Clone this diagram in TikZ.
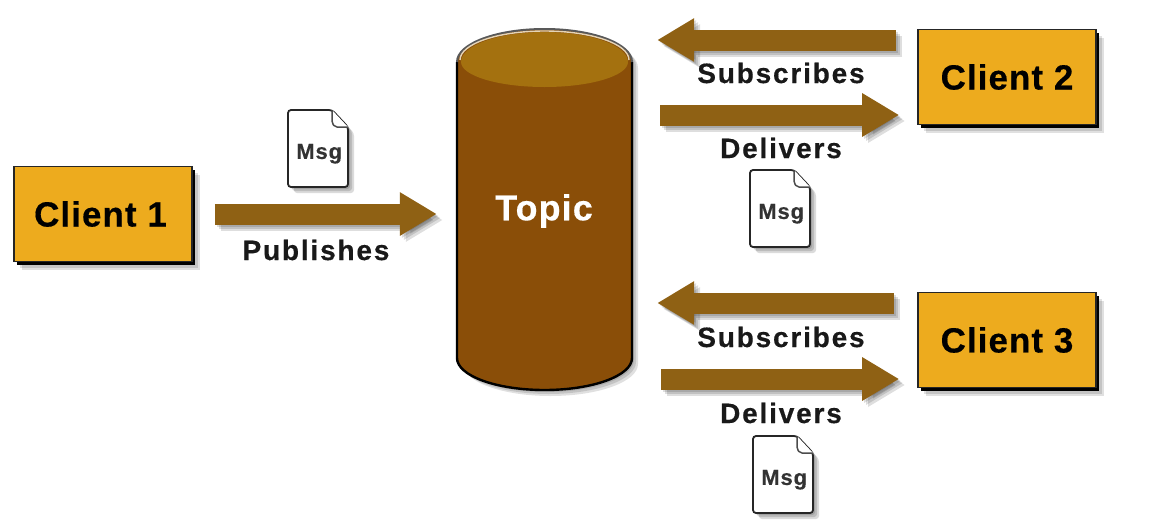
\documentclass[tikz,border=0pt]{standalone}
\usepackage{fontspec}
\setmainfont{Liberation Sans}
\usetikzlibrary{arrows.meta,shadows,calc}
\definecolor{clientfill}{HTML}{EDAB1E}
\definecolor{arrowbrown}{HTML}{8F6114}
\definecolor{topicside}{HTML}{8A4E08}
\definecolor{topictop}{HTML}{A4710F}
\newcommand{\labelfont}{\fontsize{28}{30}\selectfont\bfseries\addfontfeatures{LetterSpace=6.5,FakeBold=0.4}}
\newcommand{\clientfont}{\fontsize{35}{38}\selectfont\bfseries\addfontfeatures{LetterSpace=3,FakeBold=0.4}}
\tikzset{
  x=1pt,y=-1pt,
  softshadow/.style={drop shadow={shadow xshift=#1,shadow yshift=-#1,opacity=.12,fill=black,draw=none}},
  clientbox/.style={rectangle,fill=clientfill,draw=black!85,line width=1.6pt,
    minimum width=178pt,minimum height=95pt,inner sep=0pt,text=black,font=\clientfont,
    softshadow=8pt,softshadow=6pt,
    drop shadow={shadow xshift=3pt,shadow yshift=-3pt,opacity=1,fill=black,draw=none}},
  arrowbody/.style={draw=arrowbrown,line width=21pt,-{Triangle[length=37pt,width=41pt,color=arrowbrown]}},
  arrowshade/.style={draw=black,opacity=.13,line width=21pt,-{Triangle[length=37pt,width=41pt,color=black]}},
  flowlabel/.style={font=\labelfont,text=black!90,inner sep=0pt},
  msgtext/.style={font=\fontsize{22}{24}\selectfont\bfseries\addfontfeatures{LetterSpace=4,FakeBold=0.3},text=black!80,inner sep=0pt},
  docanchor/.style={rectangle,minimum width=60pt,minimum height=77pt,inner sep=0pt},
}
% block arrow: #1 start, #2 end
\newcommand{\blockarrow}[2]{%
  \foreach \d in {2,4,6}{\draw[arrowshade,transform canvas={shift={(\d pt,-\d pt)}}] #1 -- #2;}
  \draw[arrowbody] #1 -- #2;}
% document icon: #1 name, #2 top-left x, #3 top-left y
\newcommand{\msgdoc}[3]{%
  \node[docanchor,anchor=north west] (#1) at (#2,#3) {};
  \begin{scope}[shift={(#2,#3)}]
    \foreach \d in {2,4,6}{
      \fill[black,opacity=.14,rounded corners=3pt,shift={(\d,\d)}] (0,0) -- (44,0) -- (60,17) -- (60,77) -- (0,77) -- cycle;}
    \draw[fill=white,draw=black!85,line width=1.8pt,rounded corners=3pt]
      (0,0) -- (44,0) -- (60,17) -- (60,77) -- (0,77) -- cycle;
    \draw[draw=black!70,line width=1.5pt,fill=white,rounded corners=2pt] (44,0) -- (44,13) -- (47,17) -- (60,17);
  \end{scope}
  \node[msgtext] at ($(#1.center)+(1,5)$) {Msg};}
\begin{document}
\begin{tikzpicture}
\useasboundingbox (0,0) rectangle (1149,528);
\fill[white] (0,0) rectangle (1149,528);

% clients
\node[clientbox] (c1) at (103,214) {\hspace*{-5pt}Client 1};
\node[clientbox] (c2) at (1007,77) {Client 2};
\node[clientbox] (c3) at (1007,340) {Client 3};

% topic cylinder
\foreach \d in {2,4,6}{
  \fill[black,opacity=.12,shift={(\d,\d)}] (457,62) arc[start angle=180,end angle=360,x radius=87.5,y radius=33]
    -- (632,358) arc[start angle=0,end angle=180,x radius=87.5,y radius=32] -- cycle;}
\fill[topicside] (457,62) arc[start angle=180,end angle=360,x radius=87.5,y radius=33]
    -- (632,358) arc[start angle=0,end angle=180,x radius=87.5,y radius=32] -- cycle;
\draw[black,line width=2.4pt] (632,62) -- (632,358) arc[start angle=0,end angle=180,x radius=87.5,y radius=32] -- (457,62);
\draw[black!65,line width=2pt] (457,62) arc[start angle=180,end angle=360,x radius=87.5,y radius=33];
\fill[topictop] (461,62) arc[start angle=180,end angle=360,x radius=83.5,y radius=30]
   arc[start angle=0,end angle=180,x radius=83.5,y radius=25] -- cycle;
\draw[white!70!topictop,line width=1.4pt] (460,60) arc[start angle=180,end angle=360,x radius=84.5,y radius=29];
\node[rectangle,minimum width=175pt,minimum height=362pt,inner sep=0pt] (topic) at (544.5,209) {};
\node[font=\fontsize{36}{38}\selectfont\bfseries\addfontfeatures{LetterSpace=3,FakeBold=0.4},text=white,inner sep=0pt] (topiclabel) at (544,211) {Topic};

% connectors
\blockarrow{([xshift=22pt]c1.east)}{([xshift=-20pt]topic.west |- c1.east)}
\blockarrow{([xshift=-21pt,yshift=37pt]c2.west)}{([xshift=25pt,yshift=37pt]topic.east |- c2.west)}
\blockarrow{([xshift=28pt,yshift=-38pt]topic.east |- c2.west)}{([xshift=-18pt,yshift=-38pt]c2.west)}
\blockarrow{([xshift=-23pt,yshift=37pt]c3.west)}{([xshift=25pt,yshift=37pt]topic.east |- c3.west)}
\blockarrow{([xshift=29pt,yshift=-39pt]topic.east |- c3.west)}{([xshift=-18pt,yshift=-39pt]c3.west)}

% labels
\node[flowlabel] (pub) at (316,250) {Publishes};
\node[flowlabel] (sub2) at (781,73) {Subscribes};
\node[flowlabel] (del2) at (781,148) {Delivers};
\node[flowlabel] (sub3) at (781,337) {Subscribes};
\node[flowlabel] (del3) at (781,413) {Delivers};

% messages
\msgdoc{m1}{288}{110}
\msgdoc{m2}{750}{170}
\msgdoc{m3}{753}{436}
\end{tikzpicture}
\end{document}
